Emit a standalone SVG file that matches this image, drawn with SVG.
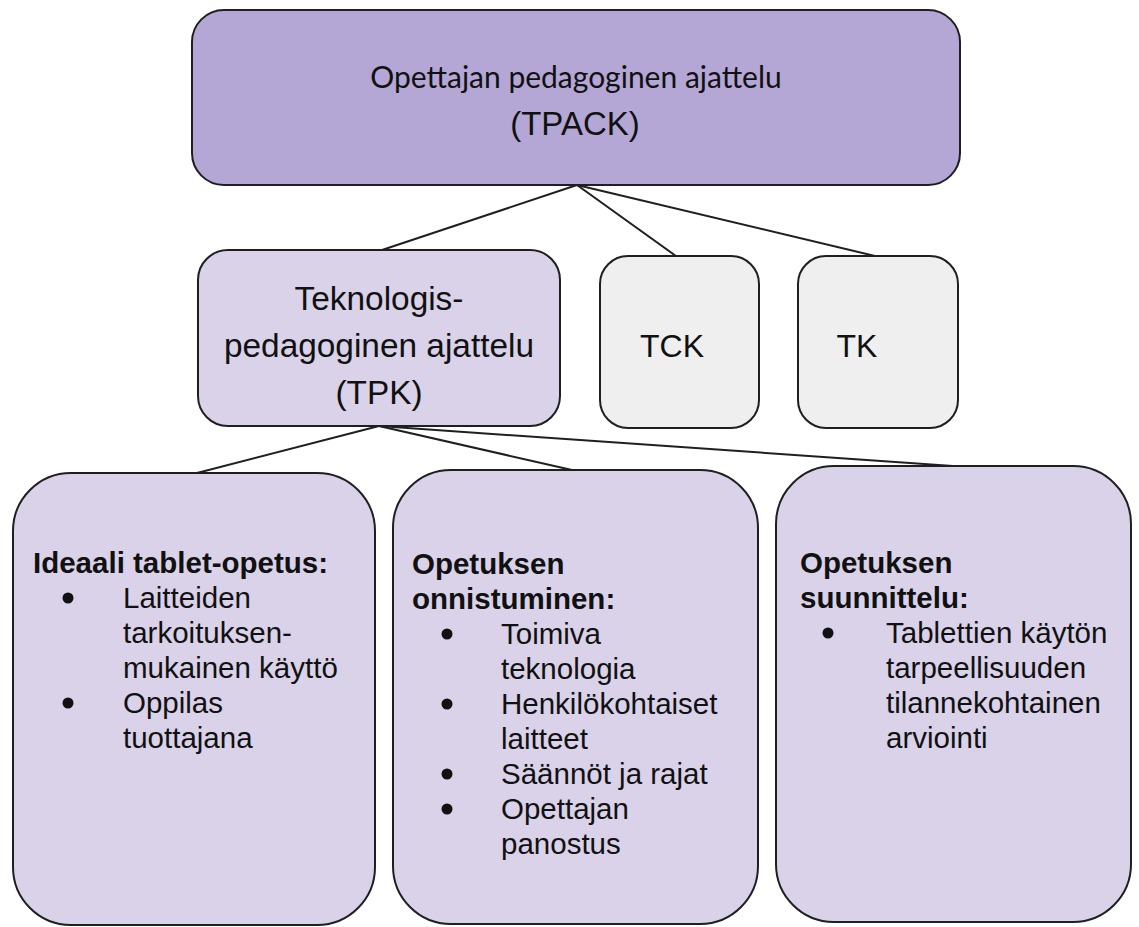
<svg xmlns="http://www.w3.org/2000/svg" width="1139" height="927" viewBox="0 0 1139 927">
  <style>
    .box { stroke: #1f1f1f; stroke-width: 2; }
    .dark { fill: #b4a7d6; }
    .light { fill: #d9d2e9; }
    .grey { fill: #efefef; }
    .link { stroke: #1f1f1f; stroke-width: 2; fill: none; }
    text { font-family: "Liberation Sans", Arial, sans-serif; fill: #111; }
    .mid { font-size: 32px; text-anchor: middle; }
    .tpk { font-size: 33.4px; text-anchor: middle; }
    .body { font-size: 29.5px; }
    .head { font-size: 29.5px; font-weight: bold; }
    .dot { fill: #111; }
  </style>

  <rect width="1139" height="927" fill="#ffffff"/>

  <!-- connectors -->
  <g id="connectors">
    <line class="link" x1="577" y1="185" x2="382" y2="250"/>
    <line class="link" x1="577" y1="185" x2="676" y2="256"/>
    <line class="link" x1="577" y1="185" x2="875" y2="256"/>
    <line class="link" x1="379" y1="426" x2="197" y2="473"/>
    <line class="link" x1="379" y1="426" x2="572" y2="470"/>
    <line class="link" x1="379" y1="426" x2="953" y2="466"/>
  </g>

  <!-- top level -->
  <g id="tpack">
    <rect class="box dark" x="192" y="10" width="768" height="175" rx="32"/>
    <text x="576" y="88" text-anchor="middle" style="font-family: Lato, 'Open Sans', sans-serif; font-size: 30px;">Opettajan pedagoginen ajattelu</text>
    <text x="575" y="135" text-anchor="middle" style="font-size: 33px;">(TPACK)</text>
  </g>

  <!-- second level -->
  <g id="tpk">
    <rect class="box light" x="198" y="250" width="362" height="176" rx="30"/>
    <text class="tpk" x="379" y="310">Teknologis-</text>
    <text class="tpk" x="379" y="357">pedagoginen ajattelu</text>
    <text class="tpk" x="379" y="404">(TPK)</text>
  </g>

  <g id="tck">
    <rect class="box grey" x="600" y="256" width="159" height="172" rx="28"/>
    <text class="mid" x="672" y="357">TCK</text>
  </g>

  <g id="tk">
    <rect class="box grey" x="798" y="256" width="160" height="172" rx="28"/>
    <text class="mid" x="857" y="357">TK</text>
  </g>

  <!-- third level -->
  <g id="ideaali">
    <rect class="box light" x="13" y="473" width="362" height="452" rx="58"/>
    <text class="head" x="33" y="573">Ideaali tablet-opetus:</text>
    <circle class="dot" cx="68" cy="598" r="5.5"/>
    <circle class="dot" cx="68" cy="703" r="5.5"/>
    <text class="body" x="123" y="608">Laitteiden</text>
    <text class="body" x="123" y="643">tarkoituksen-</text>
    <text class="body" x="123" y="678">mukainen käyttö</text>
    <text class="body" x="123" y="713">Oppilas</text>
    <text class="body" x="123" y="748">tuottajana</text>
  </g>

  <g id="onnistuminen">
    <rect class="box light" x="393" y="470" width="365" height="454" rx="58"/>
    <text class="head" x="412" y="574">Opetuksen</text>
    <text class="head" x="412" y="609">onnistuminen:</text>
    <circle class="dot" cx="447" cy="634" r="5.5"/>
    <circle class="dot" cx="447" cy="704" r="5.5"/>
    <circle class="dot" cx="447" cy="774" r="5.5"/>
    <circle class="dot" cx="447" cy="809" r="5.5"/>
    <text class="body" x="501" y="644">Toimiva</text>
    <text class="body" x="501" y="679">teknologia</text>
    <text class="body" x="501" y="714">Henkilökohtaiset</text>
    <text class="body" x="501" y="749">laitteet</text>
    <text class="body" x="501" y="784">Säännöt ja rajat</text>
    <text class="body" x="501" y="819">Opettajan</text>
    <text class="body" x="501" y="854">panostus</text>
  </g>

  <g id="suunnittelu">
    <rect class="box light" x="776" y="466" width="355" height="456" rx="58"/>
    <text class="head" x="800" y="573">Opetuksen</text>
    <text class="head" x="800" y="608">suunnittelu:</text>
    <circle class="dot" cx="828" cy="633" r="5.5"/>
    <text class="body" x="886" y="643">Tablettien käytön</text>
    <text class="body" x="886" y="678">tarpeellisuuden</text>
    <text class="body" x="886" y="713">tilannekohtainen</text>
    <text class="body" x="886" y="748">arviointi</text>
  </g>
</svg>
